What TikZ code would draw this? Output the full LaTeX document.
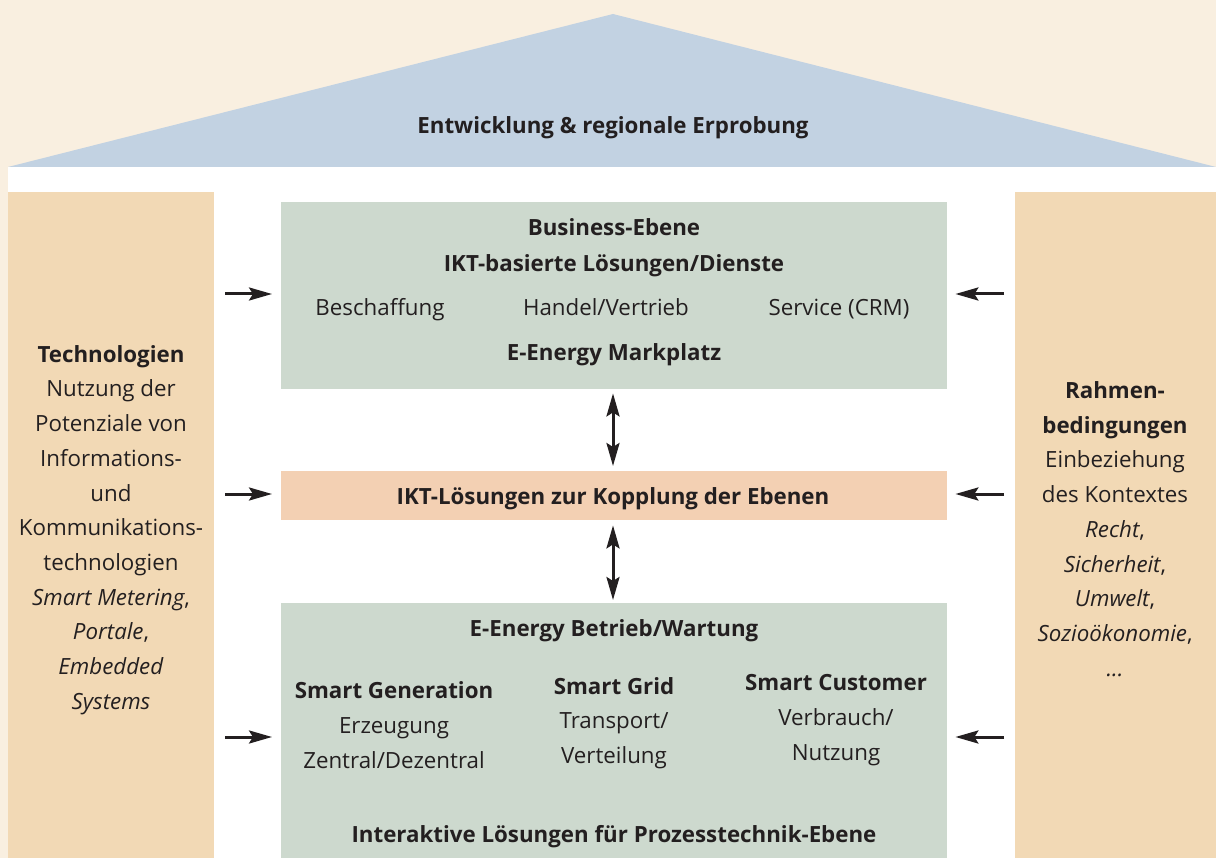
\documentclass[tikz,border=0pt]{standalone}
\usepackage{fontspec}
\setmainfont{Open Sans}
\usetikzlibrary{arrows.meta}
\definecolor{cream}{HTML}{F9EFE0}
\definecolor{roofblue}{HTML}{C2D2E2}
\definecolor{pillar}{HTML}{F2D9B5}
\definecolor{layergreen}{HTML}{CDD9CE}
\definecolor{couplepink}{HTML}{F3D0B3}
\definecolor{ink}{HTML}{231F20}
\tikzset{
  base/.style={text=ink, inner sep=0pt, font=\fontsize{22.3}{34.7}\selectfont},
  txt/.style={base, text height=16pt, text depth=0pt},
  hd/.style={txt, font=\fontsize{22.3}{26}\selectfont\bfseries},
  col/.style={base, align=center},
  layer/.style={fill=layergreen, draw=none},
  sidearrow/.style={ink, line width=3pt, -{Stealth[length=23pt,width=13pt,inset=4pt]}},
  linkarrow/.style={ink, line width=3pt, {Stealth[length=23pt,width=13pt,inset=4pt]}-{Stealth[length=23pt,width=13pt,inset=4pt]}}
}
\begin{document}
\begin{tikzpicture}[x=1pt,y=-1pt]
\useasboundingbox (0,0) rectangle (1216,858);
% background and house frame
\fill[cream] (0,0) rectangle (1216,858);
\fill[white] (8,167) rectangle (1216,858);
\fill[roofblue] (8,167) -- (613,14) -- (1216,167) -- cycle;
\node[hd] (roof) at (613,126) {Entwicklung \& regionale Erprobung};
% pillars
\fill[pillar] (8,192) rectangle (214,858);
\fill[pillar] (1015,192) rectangle (1216,858);
% layers
\node[layer, minimum width=666pt, minimum height=187pt, anchor=north west] (biz) at (281,202) {};
\node[fill=couplepink, minimum width=666pt, minimum height=49pt, anchor=north west] (couple) at (281,471) {};
\node[layer, minimum width=666pt, minimum height=255pt, anchor=north west] (ops) at (281,603) {};
% business layer text
\node[hd] at (614,228) {Business-Ebene};
\node[hd] at (614,264) {IKT-basierte Lösungen/Dienste};
\node[txt] at (380,308) {Beschaffung};
\node[txt] at (606,308) {Handel/Vertrieb};
\node[txt] at (839,308) {Service (CRM)};
\node[hd] at (614,353) {E-Energy Markplatz};
% coupling layer text
\node[hd] at (613,496) {IKT-Lösungen zur Kopplung der Ebenen};
% operations layer text
\node[hd] at (614,628) {E-Energy Betrieb/Wartung};
\node[col] (gen) at (394,725) {\textbf{Smart Generation}\\Erzeugung\\Zentral/Dezentral};
\node[col] (grid) at (614,723) {\textbf{Smart Grid}\\Transport/\\Verteilung};
\node[col] (cust) at (836,720) {\textbf{Smart Customer}\\Verbrauch/\\Nutzung};
\node[hd] at (614,834) {Interaktive Lösungen für Prozesstechnik-Ebene};
% pillar texts
\node[col] (tech) at (111,530) {\textbf{Technologien}\\Nutzung der\\Potenziale von\\Informations-\\und\\Kommunikations-\\technologien\\\textit{Smart Metering},\\\textit{Portale},\\\textit{Embedded}\\\textit{Systems}};
\node[col] (frame) at (1115,529) {\textbf{Rahmen-}\\\textbf{bedingungen}\\Einbeziehung\\des Kontextes\\\textit{Recht},\\\textit{Sicherheit},\\\textit{Umwelt},\\\textit{Sozioökonomie},\\\textit{...}};
% arrow ends
\foreach \y/\n in {294/a,494/b,737/c}{
  \coordinate (l\n) at (225,\y);
  \coordinate (r\n) at (1004,\y);
}
\draw[sidearrow, shorten >=9pt] (la) -- (biz.west |- la);
\draw[sidearrow, shorten >=9pt] (lb) -- (couple.west |- lb);
\draw[sidearrow, shorten >=9pt] (lc) -- (ops.west |- lc);
\draw[sidearrow, shorten >=8pt] (ra) -- (biz.east |- ra);
\draw[sidearrow, shorten >=8pt] (rb) -- (couple.east |- rb);
\draw[sidearrow, shorten >=8pt] (rc) -- (ops.east |- rc);
\coordinate (m1) at (613,0);
\draw[linkarrow, shorten <=4pt, shorten >=5pt] (biz.south -| m1) -- (couple.north -| m1);
\draw[linkarrow, shorten <=5pt, shorten >=3pt] (couple.south -| m1) -- (ops.north -| m1);
\end{tikzpicture}
\end{document}
